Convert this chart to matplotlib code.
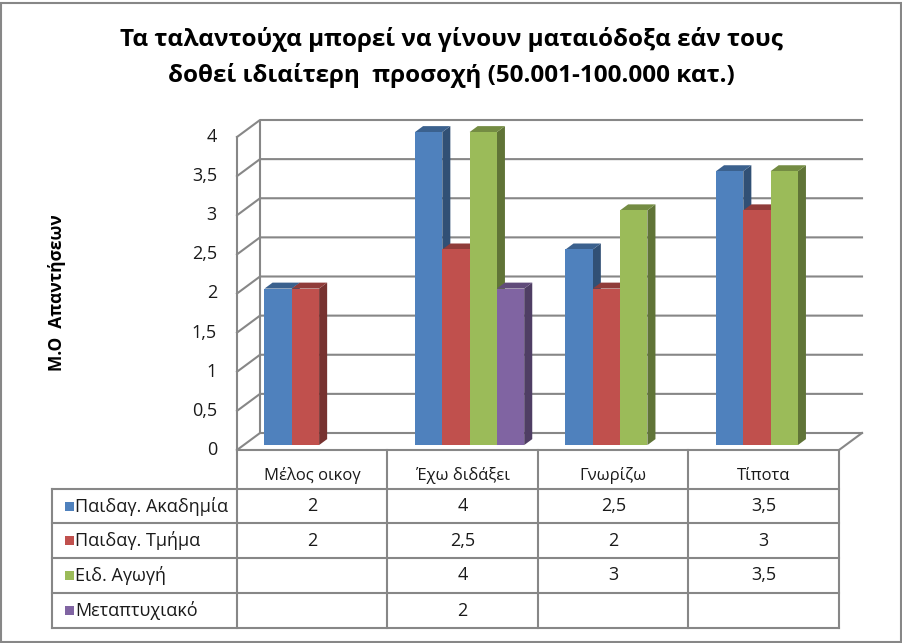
import matplotlib.pyplot as plt
from matplotlib.patches import Polygon, Rectangle

plt.rcParams['font.family'] = ['Open Sans', 'DejaVu Sans']

# δεδομένα
categories = ["Μέλος οικογ", "Έχω διδάξει", "Γνωρίζω", "Τίποτα"]
series_names = ["Παιδαγ. Ακαδημία", "Παιδαγ. Τμήμα", "Ειδ. Αγωγή", "Μεταπτυχιακό"]
akadimia = [2, 4, 2.5, 3.5]
tmima = [2, 2.5, 2, 3]
eid_agogi = [None, 4, 3, 3.5]
metaptyxiako = [None, 2, None, None]
series_values = [akadimia, tmima, eid_agogi, metaptyxiako]
yticks = [0, 0.5, 1, 1.5, 2, 2.5, 3, 3.5, 4]

colors = ["#4F81BD", "#C0504D", "#9BBB59", "#8064A2"]
grid_col = "#878787"

W, H = 903, 643
# pixel geometry of the plot area (front axis)
x0_px, x1_px = 237, 839
y0_px, y4_px = 450, 137
cat_px = (x1_px - x0_px) / len(categories)
unit_px = (y0_px - y4_px) / 4.0
DX = 23 / cat_px       # depth of the 3D box in category units
DY = 17 / unit_px      # depth in value units


def shade(c, k):
    c = c.lstrip("#")
    r, g, b = [int(c[i:i + 2], 16) for i in (0, 2, 4)]
    return (r * k / 255, g * k / 255, b * k / 255)


fig = plt.figure(figsize=(W / 100, H / 100), dpi=100)
fig.patches.append(Rectangle((1.5 / W, 1.5 / H), 899.5 / W, 639 / H, transform=fig.transFigure,
                             fill=False, ec=grid_col, lw=1.5))

left, right, top = x0_px, 862, 120
ax = fig.add_axes([left / W, (H - y0_px) / H, (right - left) / W, (y0_px - top) / H])
ax.set_xlim(0, (right - left) / cat_px)
ax.set_ylim(0, (y0_px - top) / unit_px)
ax.axis("off")

xmax = ax.get_xlim()[1]
lw = 1.5
txt_col = "#1a1a1a"
# walls and gridlines
for v in yticks:
    ax.plot([0, DX, xmax], [v, v + DY, v + DY], color=grid_col, lw=lw, clip_on=False, zorder=1)
    ax.text(-20 / cat_px, v, ("%g" % v).replace(".", ","), ha="right", va="center",
            fontsize=13, color=txt_col)
ax.plot([DX, DX], [DY, 4 + DY], color=grid_col, lw=lw, zorder=1)
ax.plot([0, 0], [0, 4], color=grid_col, lw=lw, clip_on=False, zorder=1)
ax.plot([0, len(categories), len(categories) + DX], [0, 0, DY], color=grid_col, lw=lw,
        clip_on=False, zorder=1)

# bars (3D look)
bw = 27.3 / cat_px
off = 27.5 / cat_px
f0 = 0.29
dep = 0.35
for j in range(len(categories)):
    for i, vals in enumerate(series_values):
        v = vals[j]
        if v is None:
            continue
        bx = j + off + i * bw
        by = f0 * DY
        ddx, ddy = dep * DX, dep * DY
        top_face = [(bx, by + v), (bx + bw, by + v), (bx + bw + ddx, by + v + ddy), (bx + ddx, by + v + ddy)]
        side_face = [(bx + bw, by), (bx + bw + ddx, by + ddy), (bx + bw + ddx, by + v + ddy), (bx + bw, by + v)]
        ax.add_patch(Polygon(side_face, closed=True, fc=shade(colors[i], 0.62), ec="none", zorder=3))
        ax.add_patch(Polygon(top_face, closed=True, fc=shade(colors[i], 0.75), ec="none", zorder=3))
        ax.add_patch(Rectangle((bx, by), bw, v, fc=colors[i], ec="none", zorder=3))

# data table below the plot
def py(p):
    return (y0_px - p) / unit_px


def px(p):
    return (p - x0_px) / cat_px


row_lines = [489, 523, 558, 593, 628]
for j in range(len(categories) + 1):
    ax.plot([j, j], [0, py(628)], color=grid_col, lw=lw, clip_on=False)
ax.plot([px(52), px(52)], [py(489), py(628)], color=grid_col, lw=lw, clip_on=False)
for r in row_lines:
    ax.plot([px(52), len(categories)], [py(r), py(r)], color=grid_col, lw=lw, clip_on=False)

for j, c in enumerate(categories):
    ax.text(j + 0.5, py(476), c, ha="center", va="center", fontsize=12, color=txt_col)

for i, name in enumerate(series_names):
    yc = (row_lines[i] + row_lines[i + 1]) / 2
    ax.add_patch(Rectangle((px(65), py(yc + 4.5)), 9 / cat_px, 9 / unit_px, fc=colors[i],
                           ec="none", clip_on=False))
    ax.text(px(75), py(yc), name, ha="left", va="center", fontsize=13, color=txt_col)
    for j, v in enumerate(series_values[i]):
        if v is None:
            continue
        ax.text(j + 0.5, py(yc), ("%g" % v).replace(".", ","), ha="center", va="center",
                fontsize=13, color=txt_col)

fig.text(451 / W, 1 - 40 / H, "Τα ταλαντούχα μπορεί να γίνουν ματαιόδοξα εάν τους",
         ha="center", va="center", fontsize=17.5, fontweight="bold")
fig.text(451 / W, 1 - 75 / H, "δοθεί ιδιαίτερη  προσοχή (50.001-100.000 κατ.)",
         ha="center", va="center", fontsize=17.5, fontweight="bold")
fig.text(57 / W, 1 - 293 / H, "Μ.Ο  Απαντήσεων", rotation=90, ha="center", va="center",
         fontsize=12.5, fontweight="bold")

fig.savefig("out.png", dpi=100)
